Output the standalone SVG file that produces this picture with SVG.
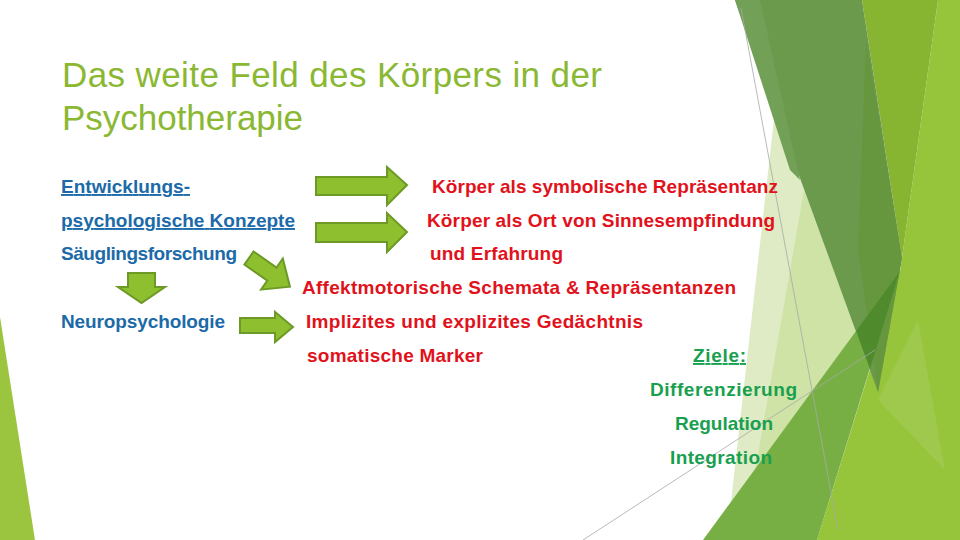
<svg xmlns="http://www.w3.org/2000/svg" width="960" height="540" viewBox="0 0 960 540">
<defs>
<style>
.title{font-family:"Liberation Sans",Arial,sans-serif;font-size:35px;fill:#8AB833}
.t{font-family:"Liberation Sans",Arial,sans-serif;font-size:19px;font-weight:bold}
.blue{fill:#1C6AA8}
.red{fill:#E1121B}
.green{fill:#18A04F}
.arrow{fill:#8DBF2E;stroke:#6D9A26;stroke-width:2;stroke-linejoin:miter}
.thin{stroke:#A8A8A8;stroke-width:0.8;fill:none}
</style>
</defs>
<rect width="960" height="540" fill="#FFFFFF"/>
<g id="background">
<polygon points="0,317 35,540 0,540" fill="#9CC53F"/>
<polygon points="775,110 856,331 731,502" fill="#DEEBC5"/>
<polygon points="804,190 856,331 755,472" fill="#CFE3A6"/>
<polygon points="938,0 960,0 960,540 817,540 870,369 900,271 902,258" fill="#96C43A"/>
<polygon points="918,320 878,400 945,470" fill="#9FC94D"/>
<polygon points="862,0 938,0 902,258" fill="#87B431"/>
<polygon points="735,0 862,0 902,258 878,392" fill="#6C9A4D"/>
<polygon points="735,0 760,0 800,180 790,170" fill="#71A056"/>
<polygon points="866,40 902,258 878,392 858,250" fill="#66973F"/>
<polygon points="703,540 856,331 900,271 817,540" fill="#77AF45"/>
<polygon points="856,331 900,271 870,369" fill="#4F8B2C"/>
<line class="thin" x1="741" y1="8" x2="838" y2="530"/>
<line class="thin" x1="583" y1="540" x2="875" y2="350"/>
</g>
<g id="title">
<text class="title" x="62" y="87" textLength="540">Das weite Feld des Körpers in der</text>
<text class="title" x="62" y="130" textLength="241">Psychotherapie</text>
</g>
<g id="connectors">
<path id="arrow1" class="arrow" d="M316,177 H387 V167 L407,185 L387,205 V195 H316 Z"/>
<path id="arrow2" class="arrow" d="M316,223 H387 V213 L407,232 L387,252 V242 H316 Z"/>
<path id="arrow3" class="arrow" d="M0,-8 H28 V-19 L50,0 L28,19 V8 H0 Z" transform="translate(249,258) rotate(35)"/>
<path id="arrow4" class="arrow" d="M128,273 H155 V287 H165 L141.5,303 L118,287 H128 Z"/>
<path id="arrow5" class="arrow" d="M240,318 H275 V312 L293,327 L275,342 V333 H240 Z"/>
</g>
<g id="node-entwicklung">
<text class="t blue" x="61" y="193" textLength="129" text-decoration="underline">Entwicklungs-</text>
<text class="t blue" x="61" y="227" textLength="234" text-decoration="underline">psychologische Konzepte</text>
</g>
<g id="node-saeugling">
<text class="t blue" x="61" y="260" textLength="176">Säuglingsforschung</text>
</g>
<g id="node-neuro">
<text class="t blue" x="61" y="328" textLength="164">Neuropsychologie</text>
</g>
<g id="node-koerper">
<text class="t red" x="432" y="193" textLength="346">Körper als symbolische Repräsentanz</text>
<text class="t red" x="427" y="227" textLength="348">Körper als Ort von Sinnesempfindung</text>
<text class="t red" x="430" y="260" textLength="133">und Erfahrung</text>
</g>
<g id="node-affekt">
<text class="t red" x="302" y="294" textLength="434">Affektmotorische Schemata &amp; Repräsentanzen</text>
</g>
<g id="node-gedaechtnis">
<text class="t red" x="306" y="328" textLength="337">Implizites und explizites Gedächtnis</text>
<text class="t red" x="307" y="362" textLength="176">somatische Marker</text>
</g>
<g id="node-ziele">
<text class="t green" x="693" y="362" textLength="53" text-decoration="underline">Ziele:</text>
<text class="t green" x="650" y="396" textLength="147">Differenzierung</text>
<text class="t green" x="675" y="430" textLength="98">Regulation</text>
<text class="t green" x="670" y="464" textLength="102">Integration</text>
</g>
</svg>
